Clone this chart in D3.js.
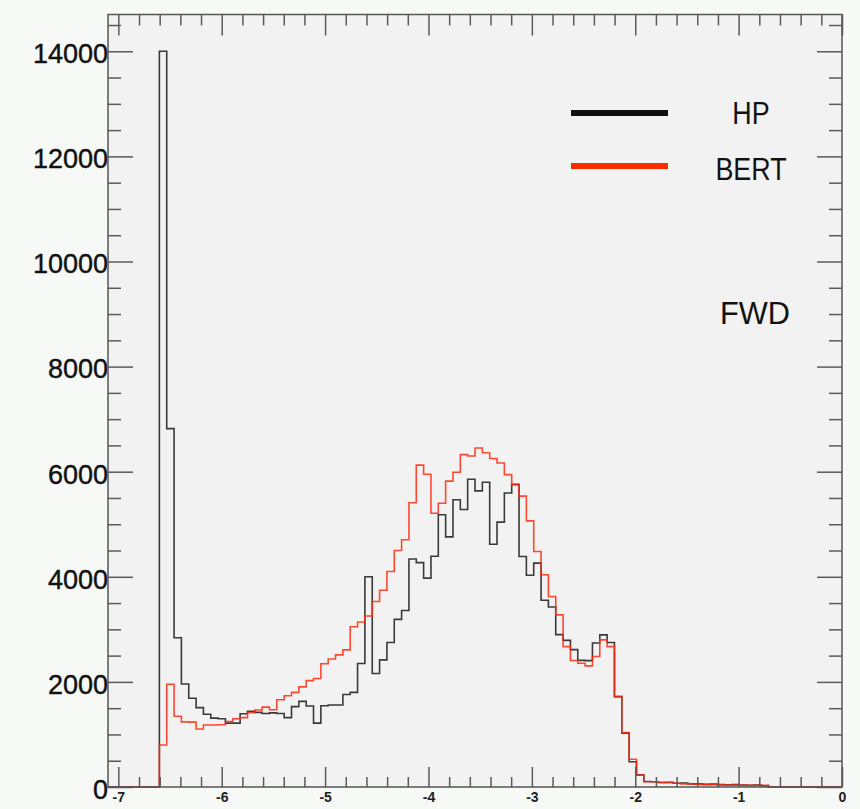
<!DOCTYPE html>
<html>
<head>
<meta charset="utf-8">
<script src="https://cdn.jsdelivr.net/npm/d3@7/dist/d3.min.js"></script>
<style>
  html, body { margin: 0; padding: 0; background: #f7f9f7; }
  svg { display: block; }
</style>
</head>
<body>
<svg id="chart" width="860" height="809"></svg>
<script>
// Histogram binning: 100 equal bins on [-7.1, 0]
const histLow = -7.1;
const histHigh = 0;
const nBins = 100;

// Bin contents, HP (black)
const hpCounts = [
  0, 0, 0, 0, 0, 0, 0, 14000, 6820, 2840,
  1960, 1690, 1510, 1385, 1310, 1300, 1215, 1215, 1395, 1440,
  1420, 1400, 1410, 1400, 1320, 1530, 1630, 1540, 1215, 1545,
  1560, 1560, 1760, 1800, 2350, 4000, 2160, 2420, 2750, 3190,
  3360, 4340, 4270, 3975, 4390, 5180, 4760, 5465, 5280, 5855,
  5635, 5800, 4620, 5040, 5595, 5760, 4385, 4030, 4260, 3555,
  3425, 2900, 2790, 2615, 2410, 2405, 2740, 2895, 2750, 1720,
  1025, 480, 230, 105, 100, 85, 90, 70, 75, 60,
  60, 50, 55, 45, 40, 45, 35, 30, 35, 25,
  0, 0, 0, 0, 0, 0, 0, 0, 0, 0
];

// Bin contents, BERT (red)
const bertCounts = [
  0, 0, 0, 0, 0, 0, 0, 800, 1955, 1345,
  1240, 1235, 1105, 1180, 1180, 1185, 1245, 1300, 1320, 1415,
  1465, 1520, 1470, 1660, 1735, 1800, 1905, 2025, 2065, 2345,
  2435, 2515, 2610, 3050, 3140, 3255, 3530, 3745, 4100, 4500,
  4705, 5410, 6125, 5950, 5210, 5400, 5820, 5990, 6325, 6300,
  6450, 6360, 6250, 6166, 5945, 5750, 5535, 5065, 4482, 4038,
  3625, 3276, 2672, 2406, 2356, 2305, 2482, 2800, 2672, 1720,
  1034, 528, 229, 100, 100, 85, 82, 70, 60, 57,
  50, 45, 42, 40, 38, 35, 33, 32, 30, 30,
  0, 0, 0, 0, 0, 0, 0, 0, 0, 0
];

// Axis ticks and labels
const xMajorTicks = [-7, -6, -5, -4, -3, -2, -1, 0];
const xTickLabels = ["-7", "-6", "-5", "-4", "-3", "-2", "-1", "0"];
const xMinorStep = 0.2;
const yMajorTicks = [0, 2000, 4000, 6000, 8000, 10000, 12000, 14000];
const yTickLabels = ["0", "2000", "4000", "6000", "8000", "10000", "12000", "14000"];
const yMinorStep = 500;
const yMax = 14700;

// Legend and annotation
const seriesNames = ["HP", "BERT"];
const seriesColors = ["#1a1a1a", "#ff2a10"];
const legendColors = ["#101010", "#ff2a00"];
const regionLabel = "FWD";

const svg = d3.select("#chart");
const frame = { left: 108, right: 842, top: 14.5, bottom: 787 };

const x = d3.scaleLinear().domain([histLow, histHigh]).range([frame.left, frame.right]);
const y = d3.scaleLinear().domain([0, yMax]).range([frame.bottom, frame.top]);

// Pad background
svg.append("rect")
  .attr("x", frame.left).attr("y", frame.top)
  .attr("width", frame.right - frame.left).attr("height", frame.bottom - frame.top)
  .attr("fill", "#f2f2f2");

// Histogram outlines (ROOT style step lines)
const binWidth = (histHigh - histLow) / nBins;
function stepPoints(counts) {
  const pts = counts.map((c, i) => [histLow + i * binWidth, c]);
  pts.push([histHigh, counts[counts.length - 1]]);
  return pts;
}
const stepLine = d3.line()
  .x(d => x(d[0]))
  .y(d => y(d[1]))
  .curve(d3.curveStepAfter);

const histGroup = svg.append("g").attr("class", "histograms");
[hpCounts, bertCounts].forEach((counts, i) => {
  histGroup.append("path")
    .datum(stepPoints(counts))
    .attr("d", stepLine)
    .attr("fill", "none")
    .attr("stroke", seriesColors[i])
    .attr("stroke-width", 1.6)
    .attr("stroke-opacity", 0.85)
    .attr("stroke-linejoin", "miter");
});

// Tick helpers
const xMinorTicks = d3.range(-7, 0.0001, xMinorStep)
  .map(v => +v.toFixed(2))
  .filter(v => !xMajorTicks.some(m => Math.abs(m - v) < 1e-6));
const yMinorTicks = d3.range(0, yMax, yMinorStep)
  .filter(v => !yMajorTicks.includes(v));

const tickColor = "#5a5a5a";
function styleAxis(g) {
  g.select(".domain").remove();
  g.selectAll(".tick line").attr("stroke", tickColor).attr("stroke-width", 1.5);
}

// Bottom axis with labels
svg.append("g")
  .attr("transform", `translate(0,${frame.bottom})`)
  .call(d3.axisBottom(x).tickValues(xMajorTicks)
    .tickFormat((d, i) => xTickLabels[i]).tickSize(-20).tickPadding(5))
  .call(styleAxis)
  .call(g => g.selectAll("text")
    .attr("font-family", "Liberation Sans, Arial, sans-serif")
    .attr("font-size", 14).attr("font-weight", "bold").attr("fill", "#222"));
svg.append("g")
  .attr("transform", `translate(0,${frame.bottom})`)
  .call(d3.axisBottom(x).tickValues(xMinorTicks).tickFormat("").tickSize(-10))
  .call(styleAxis);

// Top axis (ticks only)
svg.append("g")
  .attr("transform", `translate(0,${frame.top})`)
  .call(d3.axisTop(x).tickValues(xMajorTicks).tickFormat("").tickSize(-21))
  .call(styleAxis);
svg.append("g")
  .attr("transform", `translate(0,${frame.top})`)
  .call(d3.axisTop(x).tickValues(xMinorTicks).tickFormat("").tickSize(-11))
  .call(styleAxis);

// Left axis with labels
svg.append("g")
  .attr("transform", `translate(${frame.left},0)`)
  .call(d3.axisLeft(y).tickValues(yMajorTicks)
    .tickFormat((d, i) => yTickLabels[i]).tickSize(-25).tickPadding(0))
  .call(styleAxis)
  .call(g => g.selectAll("text")
    .attr("font-family", "Liberation Sans, Arial, sans-serif")
    .attr("font-size", 27).attr("fill", "#111")
    .attr("dy", "0.42em")
    .attr("stroke", "#111").attr("stroke-width", 0.4));
svg.append("g")
  .attr("transform", `translate(${frame.left},0)`)
  .call(d3.axisLeft(y).tickValues(yMinorTicks).tickFormat("").tickSize(-13))
  .call(styleAxis);

// Right axis (ticks only)
svg.append("g")
  .attr("transform", `translate(${frame.right},0)`)
  .call(d3.axisRight(y).tickValues(yMajorTicks).tickFormat("").tickSize(-25))
  .call(styleAxis);
svg.append("g")
  .attr("transform", `translate(${frame.right},0)`)
  .call(d3.axisRight(y).tickValues(yMinorTicks).tickFormat("").tickSize(-13))
  .call(styleAxis);

// Frame
svg.append("rect")
  .attr("x", frame.left).attr("y", frame.top)
  .attr("width", frame.right - frame.left).attr("height", frame.bottom - frame.top)
  .attr("fill", "none").attr("stroke", "#555").attr("stroke-width", 1.5);

// Legend
const legend = svg.append("g").attr("class", "legend");
const legendRows = [113, 166];
const legendBaselines = [123.5, 180];
seriesNames.forEach((name, i) => {
  legend.append("line")
    .attr("x1", 571).attr("x2", 668)
    .attr("y1", legendRows[i]).attr("y2", legendRows[i])
    .attr("stroke", legendColors[i]).attr("stroke-width", 6);
  legend.append("text")
    .attr("transform", `translate(751,${legendBaselines[i]}) scale(0.84,1)`)
    .attr("text-anchor", "middle")
    .attr("font-family", "Liberation Sans, Arial, sans-serif")
    .attr("font-size", 32).attr("fill", "#111")
    .text(name);
});

// Region annotation
svg.append("text")
  .attr("transform", `translate(755,324) scale(0.96,1)`)
  .attr("text-anchor", "middle")
  .attr("font-family", "Liberation Sans, Arial, sans-serif")
  .attr("font-size", 32).attr("fill", "#111")
  .text(regionLabel);
</script>
</body>
</html>
